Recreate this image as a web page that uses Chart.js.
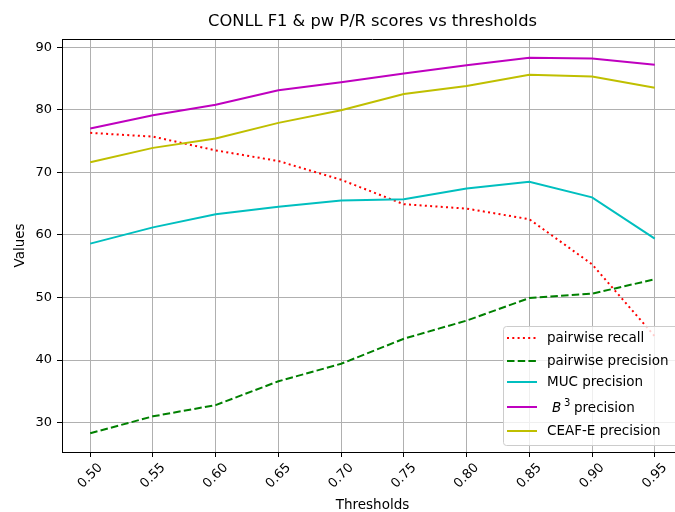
<!DOCTYPE html>
<html>
<head>
<meta charset="utf-8">
<script src="https://cdn.jsdelivr.net/npm/chart.js@4.4.1/dist/chart.umd.min.js"></script>
<style>
    html, body { margin: 0; padding: 0; background: #fff; overflow: hidden; }
    #wrap { width: 690px; height: 512px; }
</style>
</head>
<body>
<div id="wrap"><canvas id="chart" width="690" height="512"></canvas></div>
<script>
// Values
const thresholds = [0.50, 0.55, 0.60, 0.65, 0.70, 0.75, 0.80, 0.85, 0.90, 0.95];
const pairwiseRecall = [76.3, 75.7, 73.5, 71.8, 68.8, 64.9, 64.2, 62.5, 55.3, 43.8];
const pairwisePrecision = [28.3, 31.0, 32.8, 36.6, 39.4, 43.4, 46.3, 49.9, 50.6, 52.9];
const mucPrecision = [58.6, 61.2, 63.3, 64.5, 65.5, 65.7, 67.4, 68.5, 66.0, 59.4];
const b3Precision = [77.0, 79.1, 80.8, 83.1, 84.4, 85.8, 87.1, 88.3, 88.2, 87.2];
const ceafePrecision = [71.6, 73.9, 75.4, 77.9, 79.9, 82.5, 83.8, 85.6, 85.3, 83.5];
const yTickValues = [30, 40, 50, 60, 70, 80, 90];
const xRange = [0.4775, 0.9725];
const yRange = [25.3, 91.3];

const FONT = "'DejaVu Sans', sans-serif";

const series = [
    { label: 'pairwise recall', data: pairwiseRecall, color: '#ff0000', dash: [2, 3.3] },
    { label: 'pairwise precision', data: pairwisePrecision, color: '#008000', dash: [7.5, 3.2] },
    { label: 'MUC precision', data: mucPrecision, color: '#00bfbf', dash: [] },
    { label: 'B3 precision', data: b3Precision, color: '#bf00bf', dash: [] },
    { label: 'CEAF-E precision', data: ceafePrecision, color: '#bfbf00', dash: [] }
];

function toPoints(values) {
    return thresholds.map((t, i) => ({ x: t, y: values[i] }));
}

// title, rotated x labels, frame and legend box in matplotlib style
const decorations = {
    id: 'decorations',
    afterDraw(chart) {
        const ctx = chart.ctx;
        const area = chart.chartArea;
        const xScale = chart.scales.x;

        ctx.save();
        // top / right frame
        ctx.strokeStyle = '#000';
        ctx.lineWidth = 1;
        ctx.beginPath();
        ctx.moveTo(area.left, Math.round(area.top) + 0.5);
        ctx.lineTo(area.right, Math.round(area.top) + 0.5);
        ctx.lineTo(area.right, area.bottom);
        ctx.stroke();

        // title
        ctx.fillStyle = '#000';
        ctx.font = '16.3px ' + FONT;
        ctx.textAlign = 'center';
        ctx.textBaseline = 'middle';
        ctx.fillText('CONLL F1 & pw P/R scores vs thresholds', (area.left + area.right) / 2, 22);

        // x tick labels, rotated 45deg and centred on the tick
        ctx.font = '13px ' + FONT;
        thresholds.forEach(t => {
            const px = xScale.getPixelForValue(t);
            ctx.save();
            ctx.translate(px, 476);
            ctx.rotate(-Math.PI / 4);
            ctx.fillText(t.toFixed(2), 0, 0);
            ctx.restore();
        });

        // legend
        const box = { x: 503.5, y: 326.5, w: 176, h: 119 };
        ctx.beginPath();
        ctx.roundRect(box.x, box.y, box.w, box.h, 3);
        ctx.fillStyle = 'rgba(255,255,255,0.8)';
        ctx.fill();
        ctx.strokeStyle = '#cccccc';
        ctx.stroke();

        const rowY = [338, 361, 382, 407, 431];
        series.forEach((s, i) => {
            const y = rowY[i];
            ctx.beginPath();
            ctx.setLineDash(s.dash);
            ctx.strokeStyle = s.color;
            ctx.lineWidth = 2;
            ctx.moveTo(507, y);
            ctx.lineTo(537, y);
            ctx.stroke();
            ctx.setLineDash([]);

            ctx.fillStyle = '#000';
            ctx.textAlign = 'left';
            ctx.textBaseline = 'middle';
            if (s.label === 'B3 precision') {
                ctx.font = 'italic 13.5px ' + FONT;
                ctx.fillText('B', 552, y + 1);
                ctx.font = '10px ' + FONT;
                ctx.fillText('3', 564, y - 4);
                ctx.font = '13.5px ' + FONT;
                ctx.fillText('precision', 574, y + 1);
            } else {
                ctx.font = '13.5px ' + FONT;
                ctx.fillText(s.label, 547, y);
            }
        });
        ctx.restore();
    }
};

const datasets = series.map((s, i) => ({
    label: s.label,
    data: toPoints(s.data),
    borderColor: s.color,
    backgroundColor: s.color,
    borderWidth: 2,
    borderDash: s.dash,
    pointRadius: 0,
    tension: 0,
    fill: false,
    order: series.length - i
}));

const ctx = document.getElementById('chart').getContext('2d');
const chart = new Chart(ctx, {
    type: 'line',
    data: { datasets: datasets },
    options: {
        responsive: false,
        animation: false,
        layout: { padding: { top: 39, right: 7, left: 0, bottom: 0 } },
        plugins: {
            legend: { display: false },
            title: { display: false },
            tooltip: { enabled: false }
        },
        scales: {
            x: {
                type: 'linear',
                min: xRange[0],
                max: xRange[1],
                afterBuildTicks: (scale) => {
                    scale.ticks = thresholds.map(v => ({ value: v }));
                },
                afterFit: (scale) => { scale.height = 60; },
                ticks: { display: false },
                grid: { color: '#b0b0b0', lineWidth: 1, tickColor: '#000', tickLength: 5 },
                border: { display: true, color: '#000', width: 1 },
                title: {
                    display: true,
                    text: 'Thresholds',
                    color: '#000',
                    font: { family: FONT, size: 13.5 },
                    padding: { top: 0, bottom: -2 }
                }
            },
            y: {
                min: yRange[0],
                max: yRange[1],
                afterBuildTicks: (scale) => {
                    scale.ticks = yTickValues.map(v => ({ value: v }));
                },
                afterFit: (scale) => { scale.width = 62; },
                ticks: {
                    color: '#000',
                    padding: 5,
                    font: { family: FONT, size: 13 }
                },
                grid: { color: '#b0b0b0', lineWidth: 1, tickColor: '#000', tickLength: 5 },
                border: { display: true, color: '#000', width: 1 },
                title: {
                    display: true,
                    text: 'Values',
                    color: '#000',
                    font: { family: FONT, size: 13.5 },
                    padding: { top: 12, bottom: 0 }
                }
            }
        }
    },
    plugins: [decorations]
});
</script>
</body>
</html>
